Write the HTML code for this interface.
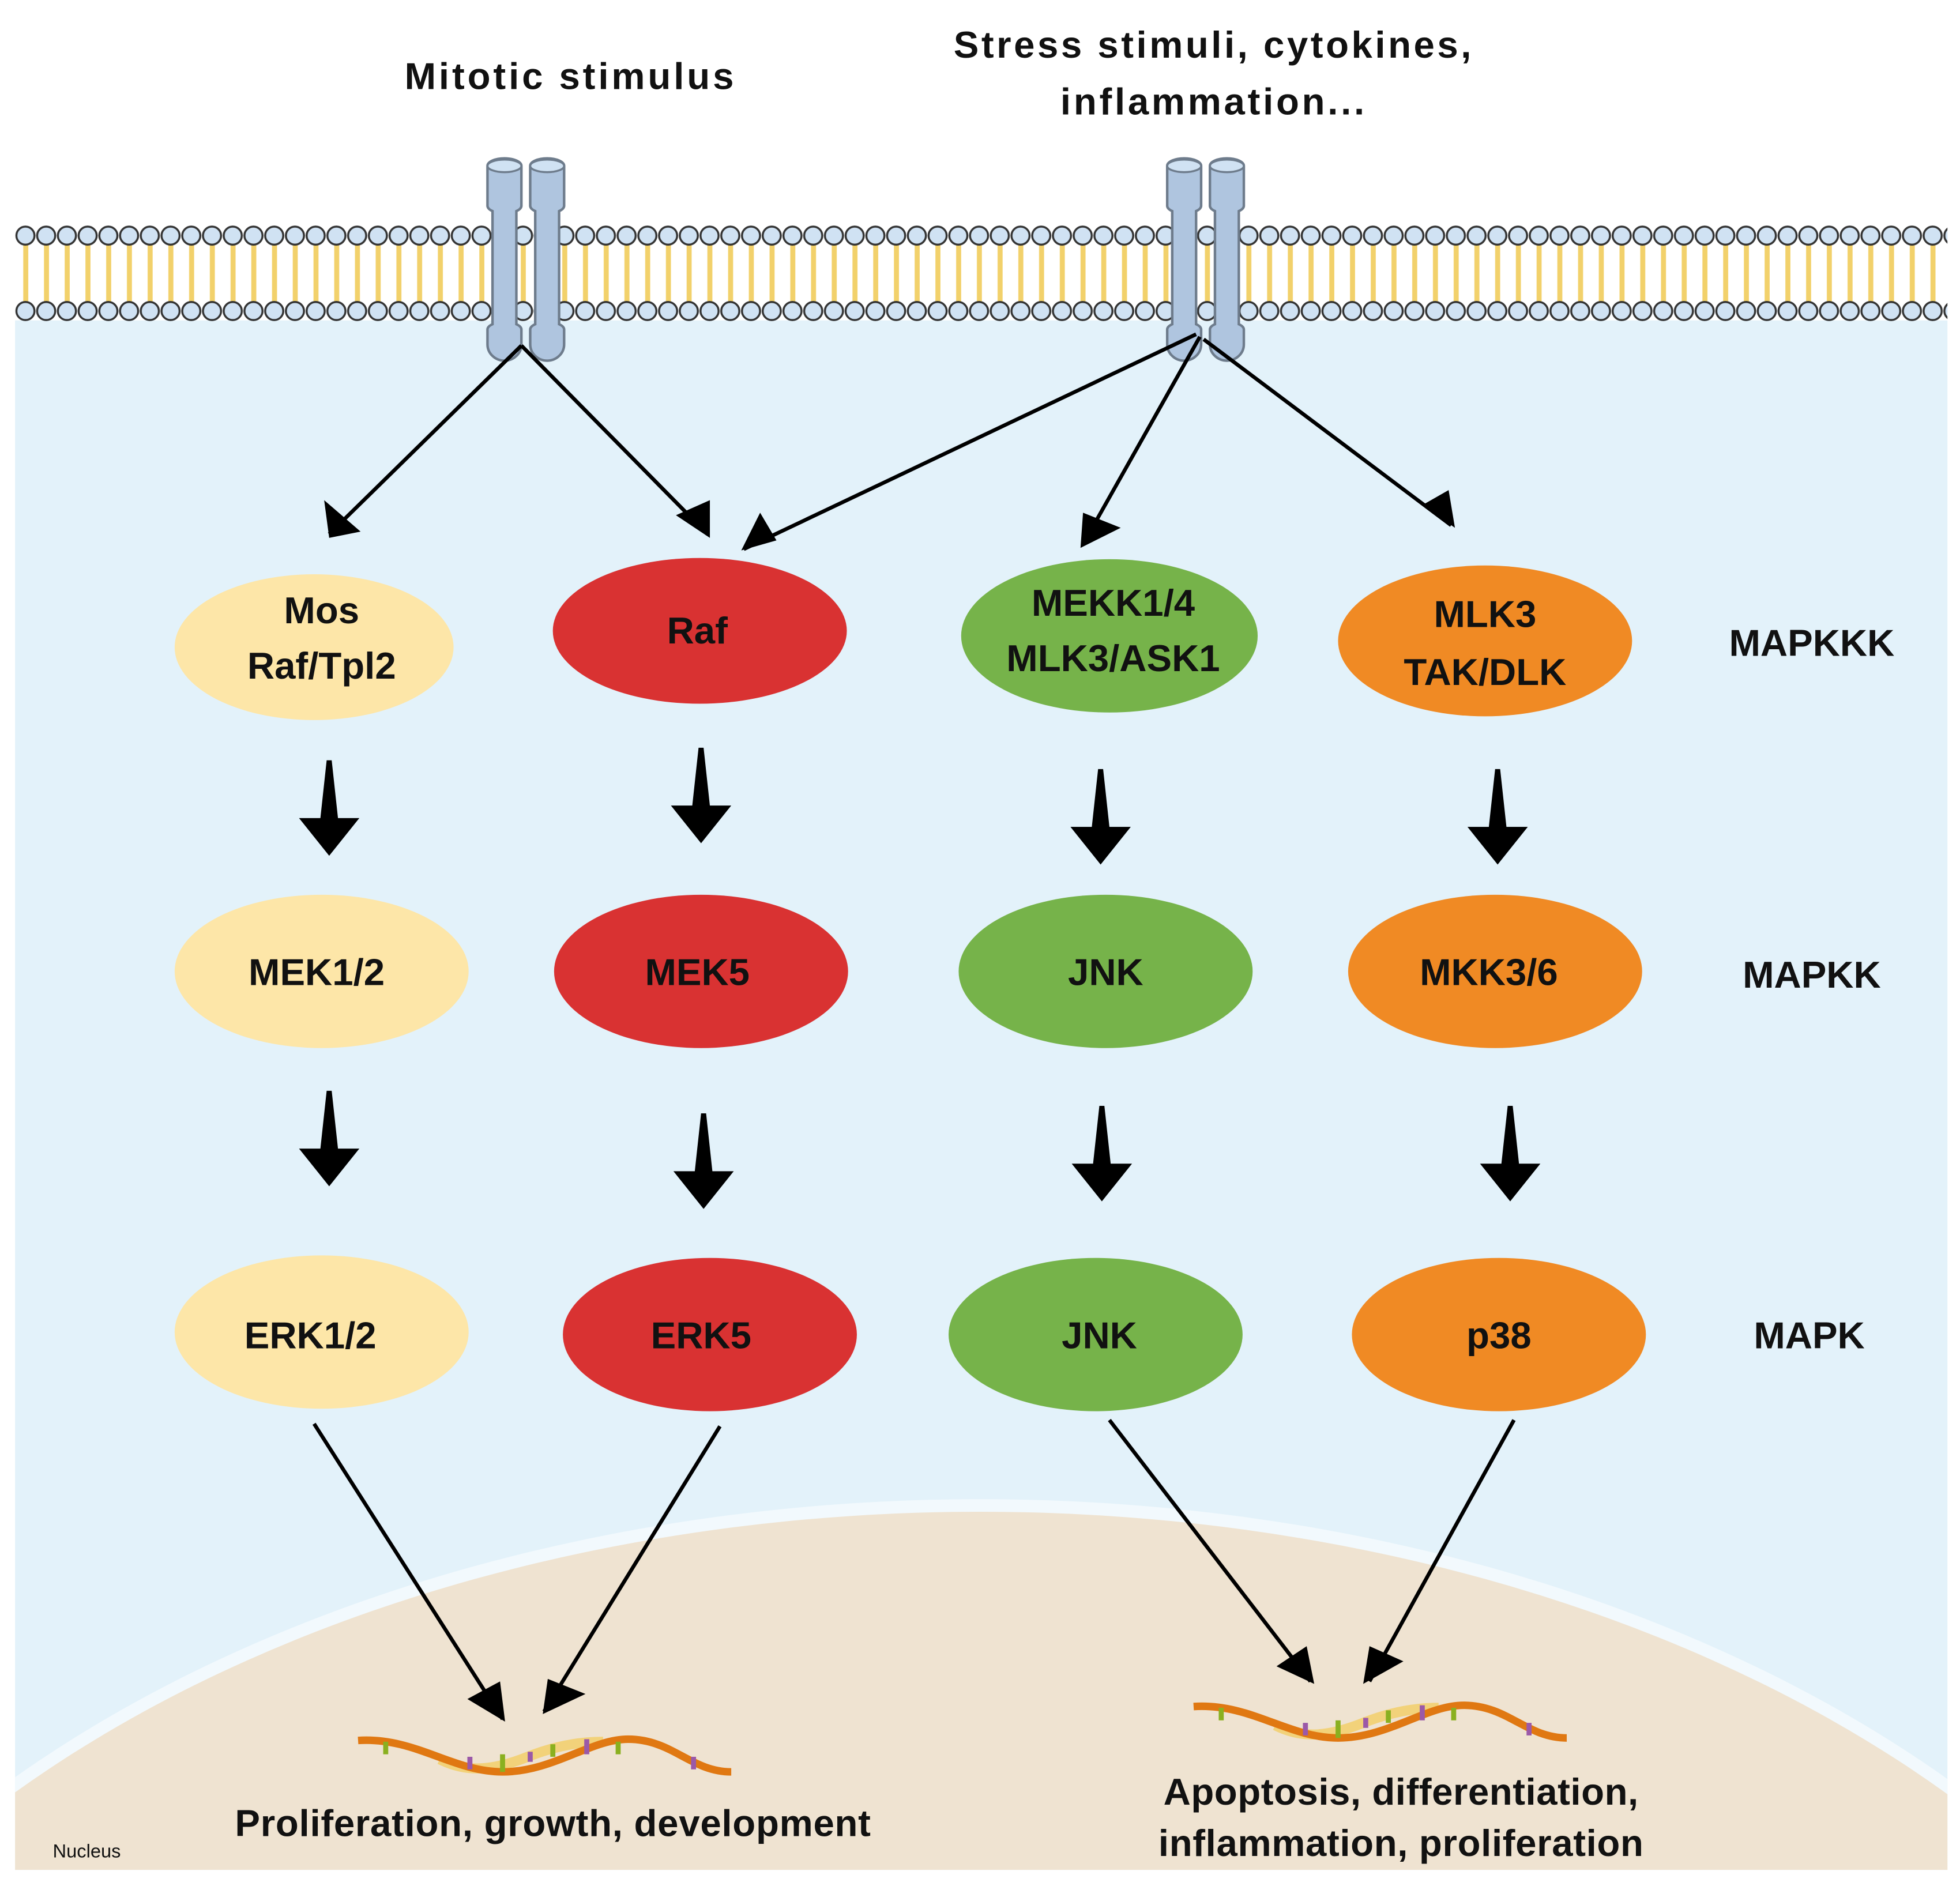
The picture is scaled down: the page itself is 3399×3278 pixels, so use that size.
<!DOCTYPE html>
<html><head><meta charset="utf-8"><style>
html,body{margin:0;padding:0;background:#fff;width:3399px;height:3278px;overflow:hidden}
svg{display:block}
text{font-family:"Liberation Sans",Arial,sans-serif;font-weight:bold;fill:#111}
</style></head><body>
<svg width="3399" height="3278" viewBox="0 0 1560 1504" preserveAspectRatio="none" xmlns="http://www.w3.org/2000/svg">
<defs>
<pattern id="mem" patternUnits="userSpaceOnUse" x="12" y="179" width="16.5" height="77">
<rect x="6.5" y="14" width="4" height="50" fill="#f2d16b"/>
<circle cx="8.25" cy="8.5" r="7.2" fill="#d0e2f3" stroke="#333" stroke-width="1.6"/>
<circle cx="8.25" cy="68.5" r="7.2" fill="#d0e2f3" stroke="#333" stroke-width="1.6"/>
</pattern>
<clipPath id="cyto"><rect x="12" y="255" width="1538" height="1233"/></clipPath>
<g id="rec">
<path d="M0,10 a13.5,6 0 0 1 27,0 v32 a13.5,6 0 0 1 -4,4 v90 a13.5,6 0 0 1 4,4 v12 a13.5,13 0 0 1 -27,0 v-12 a13.5,6 0 0 1 4,-4 v-90 a13.5,6 0 0 1 -4,-4 z" fill="#afc5df" stroke="#6e7c8c" stroke-width="2"/>
<ellipse cx="13.5" cy="10" rx="13.5" ry="5" fill="#d0e2f3" stroke="#6e7c8c" stroke-width="1.6"/>
</g>
<g id="barrow"><path d="M-2,0 L2,0 L7,46 L24,46 L0,76 L-24,46 L-7,46 z" fill="#000"/></g>
</defs>
<rect x="0" y="0" width="1560" height="1504" fill="#fff"/>
<rect x="12" y="255" width="1538" height="1233" fill="#e3f2fa"/>
<g clip-path="url(#cyto)">
<ellipse cx="780" cy="1905" rx="1060" ry="712" fill="#f2f9fd"/>
<ellipse cx="780" cy="1905" rx="1050" ry="702" fill="#efe3d1"/>
</g>
<rect x="12" y="179" width="1538" height="77" fill="url(#mem)"/>
<use href="#rec" x="388" y="122"/>
<use href="#rec" x="422" y="122"/>
<use href="#rec" x="929" y="122"/>
<use href="#rec" x="963" y="122"/>
<text x="453" y="71" font-size="30" text-anchor="middle" textLength="262">Mitotic stimulus</text>
<text x="965" y="46" font-size="30" text-anchor="middle" textLength="412">Stress stimuli, cytokines,</text>
<text x="965" y="91" font-size="30" text-anchor="middle" textLength="242">inflammation...</text>
<g stroke="#000" stroke-width="3" fill="none">
<line x1="415" y1="275" x2="262" y2="425"/>
<line x1="415" y1="275" x2="563" y2="425"/>
<line x1="952" y1="266" x2="592" y2="437"/>
<line x1="955" y1="268" x2="862" y2="433"/>
<line x1="958" y1="270" x2="1155" y2="418"/>
<line x1="250" y1="1133" x2="400" y2="1368"/>
<line x1="573" y1="1135" x2="433" y2="1362"/>
<line x1="883" y1="1130" x2="1043" y2="1338"/>
<line x1="1205" y1="1130" x2="1090" y2="1338"/>
</g>
<g fill="#000">
<polygon points="262,428 258,398 287,423"/>
<polygon points="565,428 538,410 565,398"/>
<polygon points="590,438 605,408 618,430"/>
<polygon points="860,436 862,408 892,420"/>
<polygon points="1158,420 1132,402 1153,390"/>
<polygon points="402,1370 372,1352 398,1338"/>
<polygon points="432,1364 436,1336 466,1348"/>
<polygon points="1046,1340 1016,1326 1040,1310"/>
<polygon points="1085,1340 1090,1310 1117,1322"/>
</g>
<ellipse cx="250" cy="515" rx="111" ry="58" fill="#fde6a8"/>
<ellipse cx="557" cy="502" rx="117" ry="58" fill="#d93232"/>
<ellipse cx="883" cy="506" rx="118" ry="61" fill="#76b34a"/>
<ellipse cx="1182" cy="510" rx="117" ry="60" fill="#f08a24"/>
<ellipse cx="256" cy="773" rx="117" ry="61" fill="#fde6a8"/>
<ellipse cx="558" cy="773" rx="117" ry="61" fill="#d93232"/>
<ellipse cx="880" cy="773" rx="117" ry="61" fill="#76b34a"/>
<ellipse cx="1190" cy="773" rx="117" ry="61" fill="#f08a24"/>
<ellipse cx="256" cy="1060" rx="117" ry="61" fill="#fde6a8"/>
<ellipse cx="565" cy="1062" rx="117" ry="61" fill="#d93232"/>
<ellipse cx="872" cy="1062" rx="117" ry="61" fill="#76b34a"/>
<ellipse cx="1193" cy="1062" rx="117" ry="61" fill="#f08a24"/>
<g font-size="30" text-anchor="middle">
<text x="256" y="496">Mos</text><text x="256" y="540">Raf/Tpl2</text>
<text x="555" y="512">Raf</text>
<text x="886" y="490">MEKK1/4</text><text x="886" y="534">MLK3/ASK1</text>
<text x="1182" y="499">MLK3</text><text x="1182" y="545">TAK/DLK</text>
<text x="252" y="784">MEK1/2</text><text x="555" y="784">MEK5</text>
<text x="880" y="784">JNK</text><text x="1185" y="784">MKK3/6</text>
<text x="247" y="1073">ERK1/2</text><text x="558" y="1073">ERK5</text>
<text x="875" y="1073">JNK</text><text x="1193" y="1073">p38</text>
<text x="1442" y="522">MAPKKK</text><text x="1442" y="786">MAPKK</text><text x="1440" y="1073">MAPK</text>
<text x="440" y="1461" textLength="506">Proliferation, growth, development</text>
<text x="1115" y="1436" textLength="378">Apoptosis, differentiation,</text>
<text x="1115" y="1477" textLength="386">inflammation, proliferation</text>
</g>
<text x="42" y="1478" font-size="15" style="font-weight:normal">Nucleus</text>
<use href="#barrow" x="262" y="605"/>
<use href="#barrow" x="558" y="595"/>
<use href="#barrow" x="876" y="612"/>
<use href="#barrow" x="1192" y="612"/>
<use href="#barrow" x="262" y="868"/>
<use href="#barrow" x="560" y="886"/>
<use href="#barrow" x="877" y="880"/>
<use href="#barrow" x="1202" y="880"/>
<g id="dna1">
<path d="M350,1400 C370,1410 390,1410 420,1398 C440,1390 460,1386 480,1386" stroke="#f2d27a" stroke-width="8" fill="none"/>
<path d="M285,1385 C330,1382 360,1410 400,1410 C440,1410 470,1384 500,1384 C535,1384 550,1410 582,1410" stroke="#e07812" stroke-width="6" fill="none"/>
<rect x="305" y="1386" width="4" height="10" fill="#8ab020"/>
<rect x="372" y="1398" width="4" height="10" fill="#9b59a8"/>
<rect x="398" y="1396" width="4" height="14" fill="#8ab020"/>
<rect x="420" y="1394" width="4" height="8" fill="#9b59a8"/>
<rect x="438" y="1388" width="4" height="10" fill="#8ab020"/>
<rect x="465" y="1384" width="4" height="12" fill="#9b59a8"/>
<rect x="490" y="1386" width="4" height="10" fill="#8ab020"/>
<rect x="550" y="1398" width="4" height="10" fill="#9b59a8"/>
</g>
<use href="#dna1" x="665" y="-27"/>
</svg>
</body></html>
